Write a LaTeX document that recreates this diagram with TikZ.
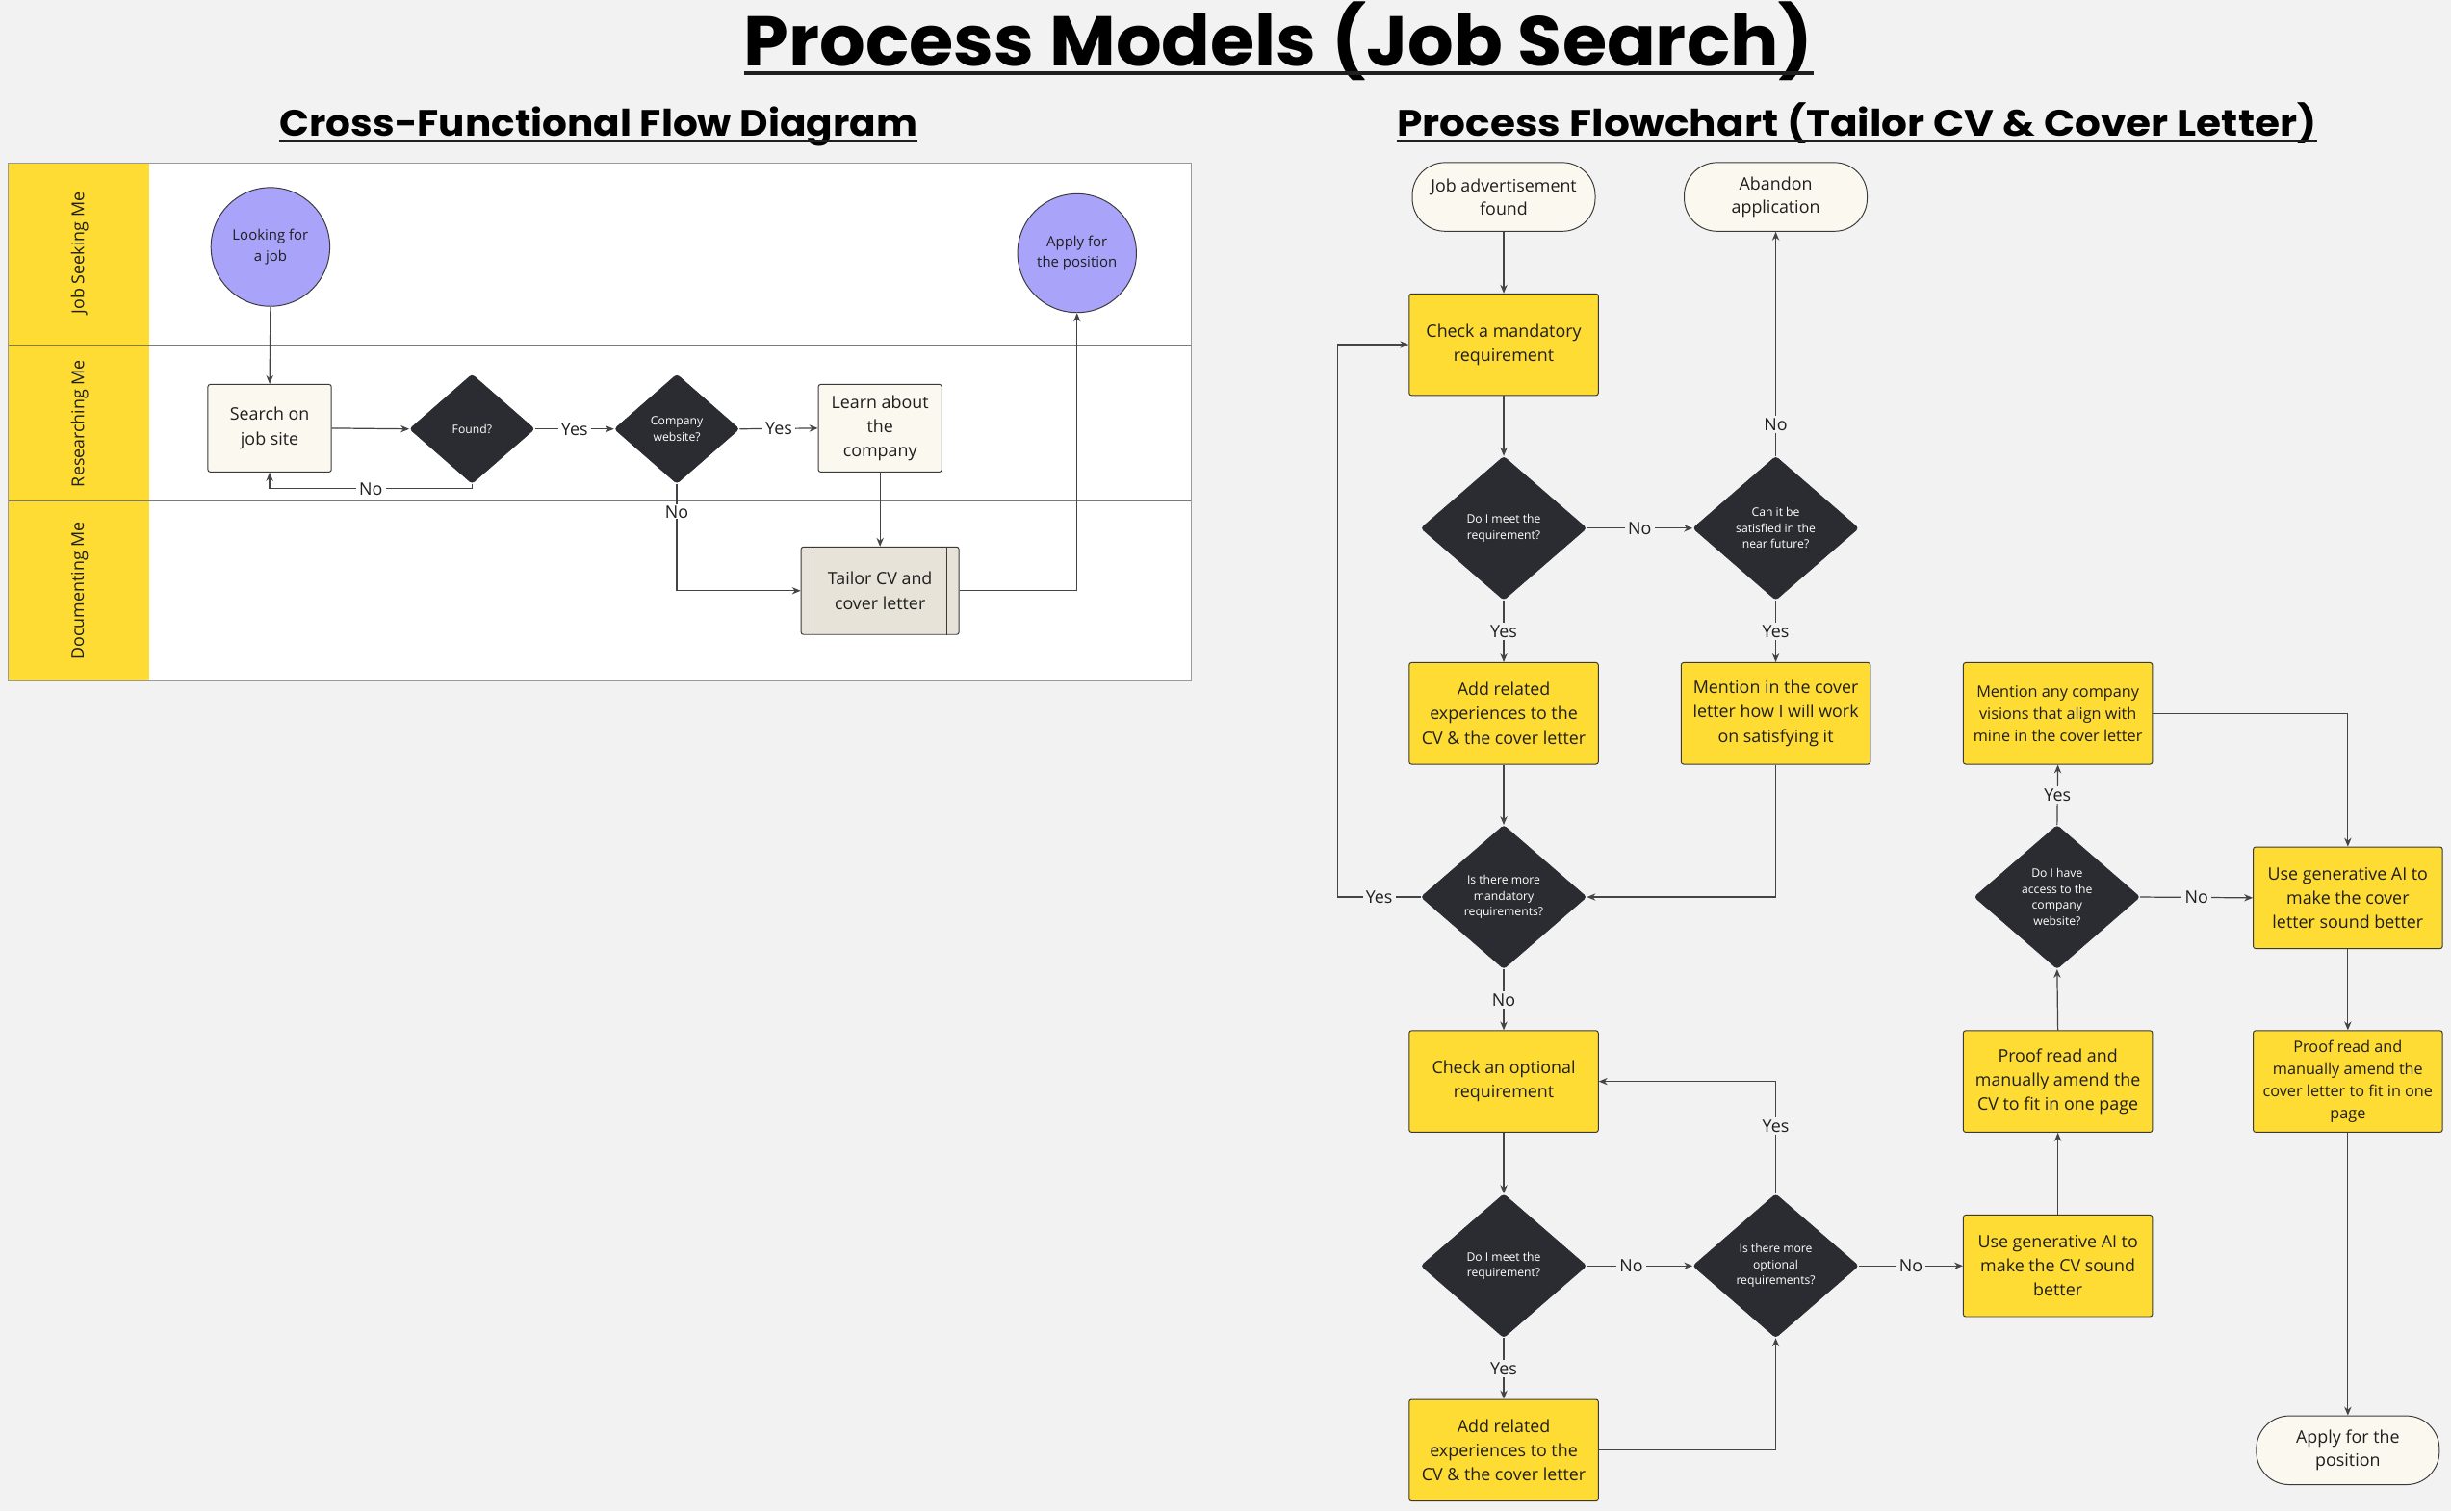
\documentclass[tikz,border=0pt]{standalone}
\usepackage{fontspec}
\setmainfont{Open Sans}
\newfontfamily\titlefont{Poppins}
\usetikzlibrary{shapes.geometric,arrows.meta}
\definecolor{bg}{HTML}{F2F2F2}
\definecolor{yel}{HTML}{FFDC33}
\definecolor{dark}{HTML}{2B2C31}
\definecolor{purp}{HTML}{A9A3FA}
\definecolor{cream}{HTML}{FBF8F0}
\definecolor{tailc}{HTML}{E7E3D8}
\definecolor{linec}{HTML}{444444}
\definecolor{boxline}{HTML}{3A3A3A}
\definecolor{txt}{HTML}{1F1F1F}
\definecolor{lanel}{HTML}{9A9A9A}
\tikzset{
  conn/.style={draw=linec, line width=0.75pt, -{Stealth[length=5.5pt,width=4.5pt]}},
  lbl/.style={fill=bg, inner xsep=2pt, inner ysep=1.5pt, text height=8pt, text depth=0pt, font=\fontsize{11}{11}\selectfont, text=txt},
  lblw/.style={lbl, fill=white},
  ybox/.style={draw=boxline, line width=0.6pt, fill=yel, rounded corners=1.5pt, minimum width=121pt, minimum height=65pt, align=center, inner sep=2pt, font=\fontsize{11}{15.5}\selectfont, text=txt},
  ysmall/.style={ybox, font=\fontsize{10}{14.2}\selectfont},
  dia/.style={diamond, draw=dark, fill=dark, minimum width=106pt, minimum height=92pt, inner sep=0pt, align=center, text=white, font=\fontsize{7.5}{10.2}\selectfont, rounded corners=2pt},
  sdia/.style={dia, minimum width=80pt, minimum height=70pt},
  term/.style={draw=boxline, line width=0.6pt, fill=cream, rounded corners=21pt, minimum width=117pt, minimum height=44pt, align=center, inner sep=2pt, font=\fontsize{11}{15}\selectfont, text=txt},
  cbox/.style={draw=boxline, line width=0.6pt, fill=cream, rounded corners=1.5pt, minimum width=79pt, minimum height=56pt, align=center, inner sep=1pt, font=\fontsize{11}{15.5}\selectfont, text=txt},
  tbox/.style={draw=boxline, line width=0.6pt, fill=tailc, rounded corners=1.5pt, minimum width=101pt, minimum height=56pt, align=center, inner sep=2pt, font=\fontsize{11}{15.5}\selectfont, text=txt},
  circ/.style={circle, draw=boxline, line width=0.6pt, fill=purp, minimum size=76pt, align=center, inner sep=0pt, font=\fontsize{9.2}{13}\selectfont, text=txt},
  lanetxt/.style={rotate=90, font=\fontsize{11}{11}\selectfont, text=txt},
}
\begin{document}
\begin{tikzpicture}[x=1pt,y=-1pt]
\useasboundingbox[fill=bg] (0,0) rectangle (1568,967);

% ---------- titles ----------
\node[anchor=base, inner sep=0] (title) at (818,42.4)
  {\resizebox{684pt}{\height}{\fontsize{45}{45}\selectfont\titlefont\bfseries Process Models (Job Search)}};
\draw[line width=2.6pt, txt] ([yshift=-4.2pt]title.base west) -- ([yshift=-4.2pt]title.base east);

\node[anchor=base, inner sep=0] (sub1) at (383,86.9)
  {\resizebox{408pt}{\height}{\fontsize{23.5}{23.5}\selectfont\titlefont\bfseries Cross-Functional Flow Diagram}};
\draw[line width=1.6pt, txt] ([yshift=-3.5pt]sub1.base west) -- ([yshift=-3.5pt]sub1.base east);

\node[anchor=base, inner sep=0] (sub2) at (1188,86.9)
  {\resizebox{588pt}{\height}{\fontsize{23.5}{23.5}\selectfont\titlefont\bfseries Process Flowchart (Tailor CV \& Cover Letter)}};
\draw[line width=1.6pt, txt] ([yshift=-3.5pt]sub2.base west) -- ([yshift=-3.5pt]sub2.base east);

% ---------- swimlanes ----------
\fill[white] (95.5,104.5) rectangle (762,435.5);
\fill[yel] (5.5,104.5) rectangle (95.5,435.5);
\draw[lanel, line width=0.6pt] (5.5,104.5) rectangle (762,435.5);
\draw[lanel!80!black, line width=0.6pt] (5.5,220.5) -- (762,220.5);
\draw[lanel!80!black, line width=0.6pt] (5.5,320.5) -- (762,320.5);
\node[lanetxt] (lane1) at (51,162) {Job Seeking Me};
\node[lanetxt] (lane2) at (51,271) {Researching Me};
\node[lanetxt] (lane3) at (51,378) {Documenting Me};

\node[circ] (look) at (173,158) {Looking for\\a job};
\node[circ] (applyc) at (689,162) {Apply for\\the position};
\node[cbox] (search) at (172.5,274) {Search on\\job site};
\node[sdia] (found) at (302,274.5) {Found?};
\node[sdia] (cweb) at (433,274.5) {Company\\website?};
\node[cbox] (learn) at (563,274) {Learn about\\the\\company};
\node[tbox] (tailor) at (563,378) {Tailor CV and\\cover letter};
\draw[boxline, line width=0.6pt] ([xshift=8pt]tailor.north west) -- ([xshift=8pt]tailor.south west);
\draw[boxline, line width=0.6pt] ([xshift=-8pt]tailor.north east) -- ([xshift=-8pt]tailor.south east);

\draw[conn] (look.south) -- (search.north);
\draw[conn] (search.east) -- (found.west);
\draw[conn] (found.east) -- node[lblw]{Yes} (cweb.west);
\draw[conn] (cweb.east) -- node[lblw]{Yes} (learn.west);
\draw[conn] (found.south) -- ++(0,3) -| node[lblw,pos=0.25]{No} (search.south);
\draw[conn] (cweb.south) |- node[lblw,pos=0.13,inner ysep=0.5pt]{No} (tailor.west);
\draw[conn] (learn.south) -- (tailor.north);
\draw[conn] (tailor.east) -| (applyc.south);

% ---------- process flowchart ----------
\node[term] (jobad) at (962,126) {Job advertisement\\found};
\node[term] (aband) at (1136,126) {Abandon\\application};
\node[ybox] (checkm) at (962,220.5) {Check a mandatory\\requirement};
\node[dia] (d1) at (962,338) {Do I meet the\\requirement?};
\node[dia] (d2) at (1136,338) {Can it be\\satisfied in the\\near future?};
\node[ybox] (add1) at (962,456.5) {Add related\\experiences to the\\CV \& the cover letter};
\node[ybox] (ment) at (1136,456.5) {Mention in the cover\\letter how I will work\\on satisfying it};
\node[dia] (d3) at (962,574) {Is there more\\mandatory\\requirements?};
\node[ybox] (checko) at (962,692) {Check an optional\\requirement};
\node[dia] (d4) at (962,810) {Do I meet the\\requirement?};
\node[dia] (d5) at (1136,810) {Is there more\\optional\\requirements?};
\node[ybox] (add2) at (962,928) {Add related\\experiences to the\\CV \& the cover letter};
\node[ybox] (aicv) at (1316.5,810) {Use generative AI to\\make the CV sound\\better};
\node[ybox] (proofcv) at (1316.5,692) {Proof read and\\manually amend the\\CV to fit in one page};
\node[dia] (d6) at (1316,574) {Do I have\\access to the\\company\\website?};
\node[ysmall] (vis) at (1316.5,456.5) {Mention any company\\visions that align with\\mine in the cover letter};
\node[ybox] (aicl) at (1502,574.5) {Use generative AI to\\make the cover\\letter sound better};
\node[ysmall] (proofcl) at (1502,692) {Proof read and\\manually amend the\\cover letter to fit in one\\page};
\node[term] (applyt) at (1502,928) {Apply for the\\position};

\draw[conn] (jobad.south) -- (checkm.north);
\draw[conn] (checkm.south) -- (d1.north);
\draw[conn] (d1.east) -- node[lbl]{No} (d2.west);
\draw[conn] (d1.south) -- node[lbl]{Yes} (add1.north);
\draw[conn] (d2.north) -- node[lbl,pos=0.14]{No} (aband.south);
\draw[conn] (d2.south) -- node[lbl]{Yes} (ment.north);
\draw[conn] (add1.south) -- (d3.north);
\draw[conn] (ment.south) |- (d3.east);
\draw[conn] (d3.west) -- node[lbl]{Yes} ++(-53,0) |- (checkm.west);
\draw[conn] (d3.south) -- node[lbl]{No} (checko.north);
\draw[conn] (checko.south) -- (d4.north);
\draw[conn] (d4.east) -- node[lbl,pos=0.42]{No} (d5.west);
\draw[conn] (d4.south) -- node[lbl]{Yes} (add2.north);
\draw[conn] (add2.east) -| (d5.south);
\draw[conn] (d5.north) |- node[lbl,pos=0.3]{Yes} (checko.east);
\draw[conn] (d5.east) -- node[lbl]{No} (aicv.west);
\draw[conn] (aicv.north) -- (proofcv.south);
\draw[conn] (proofcv.north) -- (d6.south);
\draw[conn] (d6.north) -- node[lbl]{Yes} (vis.south);
\draw[conn] (d6.east) -- node[lbl]{No} (aicl.west);
\draw[conn] (vis.east) -| (aicl.north);
\draw[conn] (aicl.south) -- (proofcl.north);
\draw[conn] (proofcl.south) -- (applyt.north);
\end{tikzpicture}
\end{document}
